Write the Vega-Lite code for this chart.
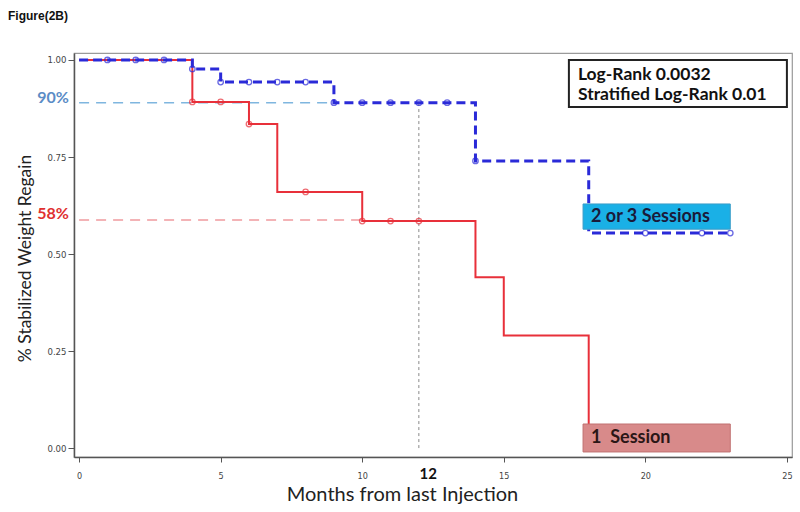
{
  "$schema": "https://vega.github.io/schema/vega-lite/v6.json",
  "width": 718,
  "height": 404,
  "autosize": {"type": "none"},
  "padding": {"left": 74, "top": 53, "right": 8, "bottom": 55},
  "background": "white",
  "title": {"text": "Figure(2B)", "anchor": "start", "frame": "group", "dx": -66, "offset": 30, "font": "Liberation Sans", "fontSize": 12, "fontWeight": "bold", "color": "#111111"},
  "config": {"view": {"stroke": "#9a9a9a", "strokeWidth": 1.2}},
  "datasets": {
    "curves": [
      {"group": "1 Session", "month": 0, "surv": 1.0},
      {"group": "1 Session", "month": 4, "surv": 0.892},
      {"group": "1 Session", "month": 6, "surv": 0.835},
      {"group": "1 Session", "month": 7, "surv": 0.66},
      {"group": "1 Session", "month": 10, "surv": 0.585},
      {"group": "1 Session", "month": 14, "surv": 0.44},
      {"group": "1 Session", "month": 15, "surv": 0.29},
      {"group": "1 Session", "month": 18, "surv": 0.0},
      {"group": "2 or 3 Sessions", "month": 0, "surv": 1.0},
      {"group": "2 or 3 Sessions", "month": 4, "surv": 0.977},
      {"group": "2 or 3 Sessions", "month": 5, "surv": 0.943},
      {"group": "2 or 3 Sessions", "month": 9, "surv": 0.89},
      {"group": "2 or 3 Sessions", "month": 14, "surv": 0.74},
      {"group": "2 or 3 Sessions", "month": 18, "surv": 0.554},
      {"group": "2 or 3 Sessions", "month": 23, "surv": 0.554}
    ],
    "censor": [
      {"group": "1 Session", "month": 4, "surv": 0.892},
      {"group": "1 Session", "month": 5, "surv": 0.892},
      {"group": "1 Session", "month": 6, "surv": 0.835},
      {"group": "1 Session", "month": 8, "surv": 0.66},
      {"group": "1 Session", "month": 10, "surv": 0.585},
      {"group": "1 Session", "month": 11, "surv": 0.585},
      {"group": "1 Session", "month": 12, "surv": 0.585},
      {"group": "2 or 3 Sessions", "month": 1, "surv": 1.0},
      {"group": "2 or 3 Sessions", "month": 2, "surv": 1.0},
      {"group": "2 or 3 Sessions", "month": 3, "surv": 1.0},
      {"group": "2 or 3 Sessions", "month": 4, "surv": 0.977},
      {"group": "2 or 3 Sessions", "month": 5, "surv": 0.943},
      {"group": "2 or 3 Sessions", "month": 6, "surv": 0.943},
      {"group": "2 or 3 Sessions", "month": 7, "surv": 0.943},
      {"group": "2 or 3 Sessions", "month": 8, "surv": 0.943},
      {"group": "2 or 3 Sessions", "month": 9, "surv": 0.89},
      {"group": "2 or 3 Sessions", "month": 10, "surv": 0.89},
      {"group": "2 or 3 Sessions", "month": 11, "surv": 0.89},
      {"group": "2 or 3 Sessions", "month": 12, "surv": 0.89},
      {"group": "2 or 3 Sessions", "month": 13, "surv": 0.89},
      {"group": "2 or 3 Sessions", "month": 14, "surv": 0.74},
      {"group": "2 or 3 Sessions", "month": 20, "surv": 0.554},
      {"group": "2 or 3 Sessions", "month": 22, "surv": 0.554},
      {"group": "2 or 3 Sessions", "month": 23, "surv": 0.554}
    ]
  },
  "layer": [
    {
      "data": {"values": [{"month": 0, "month2": 9, "surv": 0.89}]},
      "mark": {"type": "rule", "color": "#7fb6df", "strokeWidth": 1.5, "strokeDash": [10, 7]},
      "encoding": {
        "x": {
          "field": "month", "type": "quantitative", "title": "Months from last Injection",
          "scale": {"domain": [-0.18, 25.18], "nice": false, "zero": false},
          "axis": {
            "values": [0, 5, 10, 15, 20, 25], "grid": false,
            "domainColor": "#555555", "domainWidth": 1.5, "tickColor": "#555555", "tickSize": 5,
            "labelFont": "DejaVu Sans Condensed", "labelFontSize": 9, "labelColor": "#444444", "labelPadding": 9,
            "titleFont": "Lato", "titleFontSize": 20, "titleFontWeight": "normal", "titleColor": "#222222",
            "titleX": 328, "titleY": 37, "titleBaseline": "middle", "titleAlign": "center"
          }
        },
        "y": {
          "field": "surv", "type": "quantitative", "title": "% Stabilized Weight Regain",
          "scale": {"domain": [-0.023, 1.018], "nice": false, "zero": false},
          "axis": {
            "values": [0, 0.25, 0.5, 0.75, 1], "format": ".2f", "grid": false,
            "domainColor": "#555555", "domainWidth": 1.5, "tickColor": "#555555", "tickSize": 6,
            "labelFont": "DejaVu Sans Condensed", "labelFontSize": 9.5, "labelColor": "#444444", "labelPadding": 2,
            "titleFont": "Lato", "titleFontSize": 17.5, "titleFontWeight": "normal", "titleColor": "#222222",
            "titleAngle": -90, "titleX": -49, "titleY": 205, "titleBaseline": "middle", "titleAlign": "center"
          }
        },
        "x2": {"field": "month2"}
      }
    },
    {
      "data": {"values": [{"month": 0, "month2": 10, "surv": 0.588}]},
      "mark": {"type": "rule", "color": "#f09a9e", "strokeWidth": 1.5, "strokeDash": [10, 7]},
      "encoding": {
        "x": {"field": "month", "type": "quantitative", "title": "Months from last Injection"},
        "x2": {"field": "month2"},
        "y": {"field": "surv", "type": "quantitative", "title": "% Stabilized Weight Regain"}
      }
    },
    {
      "data": {"values": [{"month": 12, "surv": 0, "surv2": 0.89}]},
      "mark": {"type": "rule", "color": "#888888", "strokeWidth": 1, "strokeDash": [3, 3]},
      "encoding": {
        "x": {"field": "month", "type": "quantitative", "title": "Months from last Injection"},
        "y": {"field": "surv", "type": "quantitative", "title": "% Stabilized Weight Regain"},
        "y2": {"field": "surv2"}
      }
    },
    {
      "data": {"name": "curves"},
      "transform": [{"filter": "datum.group == '1 Session'"}],
      "mark": {"type": "line", "interpolate": "step-after", "color": "#e8303a", "strokeWidth": 2},
      "encoding": {
        "x": {"field": "month", "type": "quantitative", "title": "Months from last Injection"},
        "y": {"field": "surv", "type": "quantitative", "title": "% Stabilized Weight Regain"}
      }
    },
    {
      "data": {"name": "censor"},
      "transform": [{"filter": "datum.group == '1 Session'"}],
      "mark": {"type": "point", "shape": "circle", "filled": false, "color": "#e8303a", "size": 30, "strokeWidth": 1.3},
      "encoding": {
        "x": {"field": "month", "type": "quantitative", "title": "Months from last Injection"},
        "y": {"field": "surv", "type": "quantitative", "title": "% Stabilized Weight Regain"}
      }
    },
    {
      "data": {"name": "curves"},
      "transform": [{"filter": "datum.group == '2 or 3 Sessions'"}],
      "mark": {"type": "line", "interpolate": "step-after", "color": "#2a2ad8", "strokeWidth": 3, "strokeDash": [9, 5]},
      "encoding": {
        "x": {"field": "month", "type": "quantitative", "title": "Months from last Injection"},
        "y": {"field": "surv", "type": "quantitative", "title": "% Stabilized Weight Regain"}
      }
    },
    {
      "data": {"name": "censor"},
      "transform": [{"filter": "datum.group == '2 or 3 Sessions'"}],
      "mark": {"type": "point", "shape": "circle", "filled": false, "color": "#2a2ad8", "size": 30, "strokeWidth": 1.3},
      "encoding": {
        "x": {"field": "month", "type": "quantitative", "title": "Months from last Injection"},
        "y": {"field": "surv", "type": "quantitative", "title": "% Stabilized Weight Regain"}
      }
    },
    {
      "data": {"values": [{}]},
      "mark": {"type": "rect", "fill": "white", "stroke": "#222222", "strokeWidth": 2},
      "encoding": {"x": {"datum": 17.3, "type": "quantitative"}, "x2": {"datum": 25.0}, "y": {"datum": 0.879, "type": "quantitative"}, "y2": {"datum": 1.0}}
    },
    {
      "data": {"values": [{}]},
      "mark": {"type": "text", "text": "Log-Rank 0.0032", "align": "left", "baseline": "middle", "font": "Lato", "fontSize": 17.5, "fontWeight": "bold", "color": "#111111"},
      "encoding": {"x": {"datum": 17.62, "type": "quantitative"}, "y": {"datum": 0.962, "type": "quantitative"}}
    },
    {
      "data": {"values": [{}]},
      "mark": {"type": "text", "text": "Stratified Log-Rank 0.01", "align": "left", "baseline": "middle", "font": "Lato", "fontSize": 17.5, "fontWeight": "bold", "color": "#111111"},
      "encoding": {"x": {"datum": 17.62, "type": "quantitative"}, "y": {"datum": 0.91, "type": "quantitative"}}
    },
    {
      "data": {"values": [{}]},
      "mark": {"type": "rect", "fill": "#1ab0e6", "stroke": "#3a9cc8", "strokeWidth": 1},
      "encoding": {"x": {"datum": 17.8, "type": "quantitative"}, "x2": {"datum": 23.0}, "y": {"datum": 0.564, "type": "quantitative"}, "y2": {"datum": 0.629}}
    },
    {
      "data": {"values": [{}]},
      "mark": {"type": "text", "text": "2 or 3 Sessions", "align": "left", "baseline": "middle", "font": "Lato", "fontSize": 18, "fontWeight": "bold", "color": "#1a1a3a"},
      "encoding": {"x": {"datum": 18.08, "type": "quantitative"}, "y": {"datum": 0.595, "type": "quantitative"}}
    },
    {
      "data": {"values": [{}]},
      "mark": {"type": "rect", "fill": "#d88a8a", "stroke": "#c07070", "strokeWidth": 1},
      "encoding": {"x": {"datum": 17.8, "type": "quantitative"}, "x2": {"datum": 23.0}, "y": {"datum": -0.01, "type": "quantitative"}, "y2": {"datum": 0.062}}
    },
    {
      "data": {"values": [{}]},
      "mark": {"type": "text", "text": "1\u00a0\u00a0Session", "align": "left", "baseline": "middle", "font": "Lato", "fontSize": 18, "fontWeight": "bold", "color": "#2a1616"},
      "encoding": {"x": {"datum": 18.08, "type": "quantitative"}, "y": {"datum": 0.026, "type": "quantitative"}}
    },
    {
      "data": {"values": [{}]},
      "mark": {"type": "text", "text": "90%", "align": "right", "baseline": "middle", "font": "Lato", "fontSize": 16, "fontWeight": "bold", "color": "#5b8cc6"},
      "encoding": {"x": {"datum": -0.36, "type": "quantitative"}, "y": {"datum": 0.903, "type": "quantitative"}}
    },
    {
      "data": {"values": [{}]},
      "mark": {"type": "text", "text": "58%", "align": "right", "baseline": "middle", "font": "Lato", "fontSize": 16, "fontWeight": "bold", "color": "#e03030"},
      "encoding": {"x": {"datum": -0.36, "type": "quantitative"}, "y": {"datum": 0.603, "type": "quantitative"}}
    },
    {
      "data": {"values": [{}]},
      "mark": {"type": "text", "text": "12", "align": "center", "baseline": "middle", "font": "Lato", "fontSize": 15, "fontWeight": "bold", "color": "#111111"},
      "encoding": {"x": {"datum": 12.33, "type": "quantitative"}, "y": {"datum": -0.066, "type": "quantitative"}}
    }
  ]
}
